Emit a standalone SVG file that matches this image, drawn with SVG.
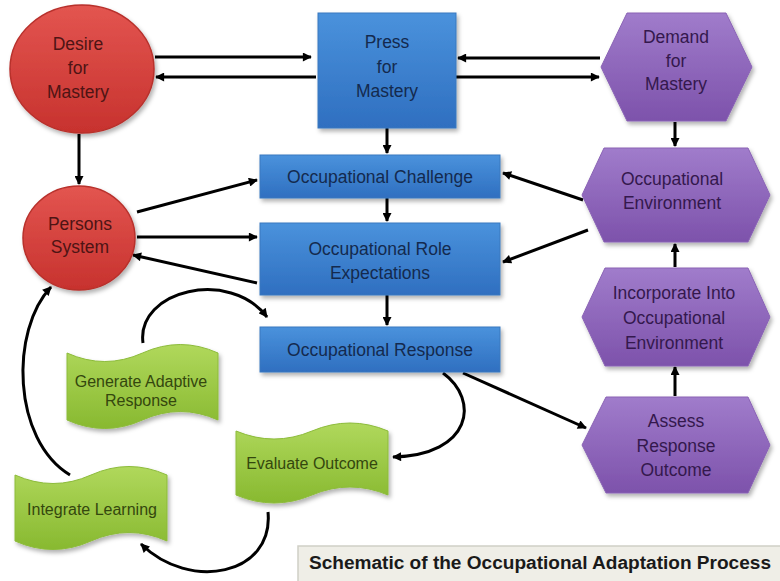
<svg xmlns="http://www.w3.org/2000/svg" width="780" height="581" viewBox="0 0 780 581">
<style>
text{font-family:"Liberation Sans",Arial,sans-serif;text-anchor:middle;font-size:17.5px}
.red text{fill:#4e1414}
.blue text{fill:#142a4e}
.purp text{fill:#34184d}
.green text{fill:#34470e;font-size:16px}
.red ellipse{fill:url(#gRed);stroke:#b8302c;stroke-width:1.5}
.blue rect{fill:url(#gBlue);stroke:#3a78bf;stroke-width:1}
.purp polygon{fill:url(#gPurp);stroke:#8a63b5;stroke-width:1}
.green path{fill:url(#gGreen);stroke:#8cbb3a;stroke-width:1}
.sh{filter:url(#shadow)}
#connectors path,#connectors line{stroke:#000;stroke-width:3;fill:none;marker-end:url(#ah)}
</style>
<defs>
<linearGradient id="gRed" x1="0" y1="0" x2="0" y2="1"><stop offset="0" stop-color="#e35550"/><stop offset="1" stop-color="#c7322e"/></linearGradient>
<linearGradient id="gBlue" x1="0" y1="0" x2="0" y2="1"><stop offset="0" stop-color="#4a92dc"/><stop offset="1" stop-color="#2f6fc0"/></linearGradient>
<linearGradient id="gPurp" x1="0" y1="0" x2="0" y2="1"><stop offset="0" stop-color="#a07ccb"/><stop offset="1" stop-color="#7d52ab"/></linearGradient>
<linearGradient id="gGreen" x1="0" y1="0" x2="0" y2="1"><stop offset="0" stop-color="#b0d85c"/><stop offset="1" stop-color="#88b930"/></linearGradient>
<filter id="shadow" x="-10%" y="-10%" width="130%" height="130%"><feDropShadow dx="2" dy="3" stdDeviation="2" flood-color="#000" flood-opacity="0.3"/></filter>
<marker id="ah" viewBox="0 0 10 10" refX="9" refY="5" markerWidth="11" markerHeight="9" orient="auto" markerUnits="userSpaceOnUse"><path d="M0,0 L10,5 L0,10 z" fill="#000"/></marker>
</defs>
<rect width="780" height="581" fill="#fff"/>

<g id="connectors">
<line x1="155" y1="57" x2="311" y2="57"/>
<line x1="316" y1="77" x2="156" y2="77"/>
<line x1="600" y1="58" x2="458" y2="58"/>
<line x1="456" y1="77" x2="599" y2="77"/>
<line x1="79" y1="134" x2="79" y2="184"/>
<line x1="387" y1="128" x2="387" y2="153"/>
<line x1="387" y1="198" x2="387" y2="221"/>
<line x1="387" y1="295" x2="387" y2="325"/>
<line x1="137" y1="212" x2="257" y2="180"/>
<line x1="137" y1="237" x2="257" y2="237"/>
<line x1="257" y1="283" x2="133" y2="255"/>
<line x1="675" y1="122" x2="675" y2="146"/>
<line x1="583" y1="200" x2="503" y2="173"/>
<line x1="588" y1="230" x2="503" y2="262"/>
<line x1="675" y1="267" x2="675" y2="244"/>
<line x1="675" y1="396" x2="675" y2="367"/>
<line x1="463" y1="373" x2="586" y2="428"/>
<path d="M443,373 C480,400 472,455 393,457"/>
<path d="M143,343 C136,290 230,268 267,317"/>
<path d="M70,475 C12,440 10,330 51,287"/>
<path d="M268,512 C274,575 190,592 141,544"/>
</g>

<g id="desire" class="red"><ellipse class="sh" cx="82" cy="69" rx="72" ry="64"/><text x="78" y="50">Desire</text><text x="78" y="74">for</text><text x="78" y="98">Mastery</text></g>
<g id="persons" class="red"><ellipse class="sh" cx="79" cy="238" rx="56" ry="52"/><text x="80" y="230">Persons</text><text x="80" y="253">System</text></g>

<g id="press" class="blue"><rect class="sh" x="318" y="13" width="138" height="115"/><text x="387" y="48">Press</text><text x="387" y="73">for</text><text x="387" y="97">Mastery</text></g>
<g id="challenge" class="blue"><rect class="sh" x="260" y="155" width="240" height="43"/><text x="380" y="183">Occupational Challenge</text></g>
<g id="role" class="blue"><rect class="sh" x="260" y="223" width="240" height="72"/><text x="380" y="255">Occupational Role</text><text x="380" y="279">Expectations</text></g>
<g id="response" class="blue"><rect class="sh" x="260" y="327" width="240" height="45"/><text x="380" y="356">Occupational Response</text></g>

<g id="demand" class="purp"><polygon class="sh" points="601,67 627,13 726,13 752,67 726,121 627,121"/><text x="676" y="43">Demand</text><text x="676" y="67">for</text><text x="676" y="90">Mastery</text></g>
<g id="environment" class="purp"><polygon class="sh" points="582,195 604,148 748,148 770,195 748,242 604,242"/><text x="672" y="185">Occupational</text><text x="672" y="209">Environment</text></g>
<g id="incorporate" class="purp"><polygon class="sh" points="582,317 605,268 748,268 770,317 748,366 605,366"/><text x="674" y="299">Incorporate Into</text><text x="674" y="324">Occupational</text><text x="674" y="349">Environment</text></g>
<g id="assess" class="purp"><polygon class="sh" points="582,445 606,397 748,397 770,445 748,493 606,493"/><text x="676" y="427">Assess</text><text x="676" y="452">Response</text><text x="676" y="476">Outcome</text></g>

<g id="generate" class="green"><path class="sh" d="M67,353 Q104.75,370 142.5,353 T218,353 L218,420 Q180.25,403 142.5,420 T67,420 Z"/><text x="141" y="387">Generate Adaptive</text><text x="141" y="406">Response</text></g>
<g id="evaluate" class="green"><path class="sh" d="M236,431 Q274,447 312,431 T388,431 L388,495 Q350,479 312,495 T236,495 Z"/><text x="312" y="469">Evaluate Outcome</text></g>
<g id="integrate" class="green"><path class="sh" d="M15,475 Q53,492 91,475 T167,475 L167,541 Q129,524 91,541 T15,541 Z"/><text x="92" y="515">Integrate Learning</text></g>

<g id="title"><rect x="298" y="546" width="490" height="40" fill="#efeee7" stroke="#d0cfc6" stroke-width="1.5"/><text x="540" y="569" style="font-weight:bold;font-size:18px;fill:#1a1a1a" textLength="462" lengthAdjust="spacingAndGlyphs">Schematic of the Occupational Adaptation Process</text></g>
</svg>
